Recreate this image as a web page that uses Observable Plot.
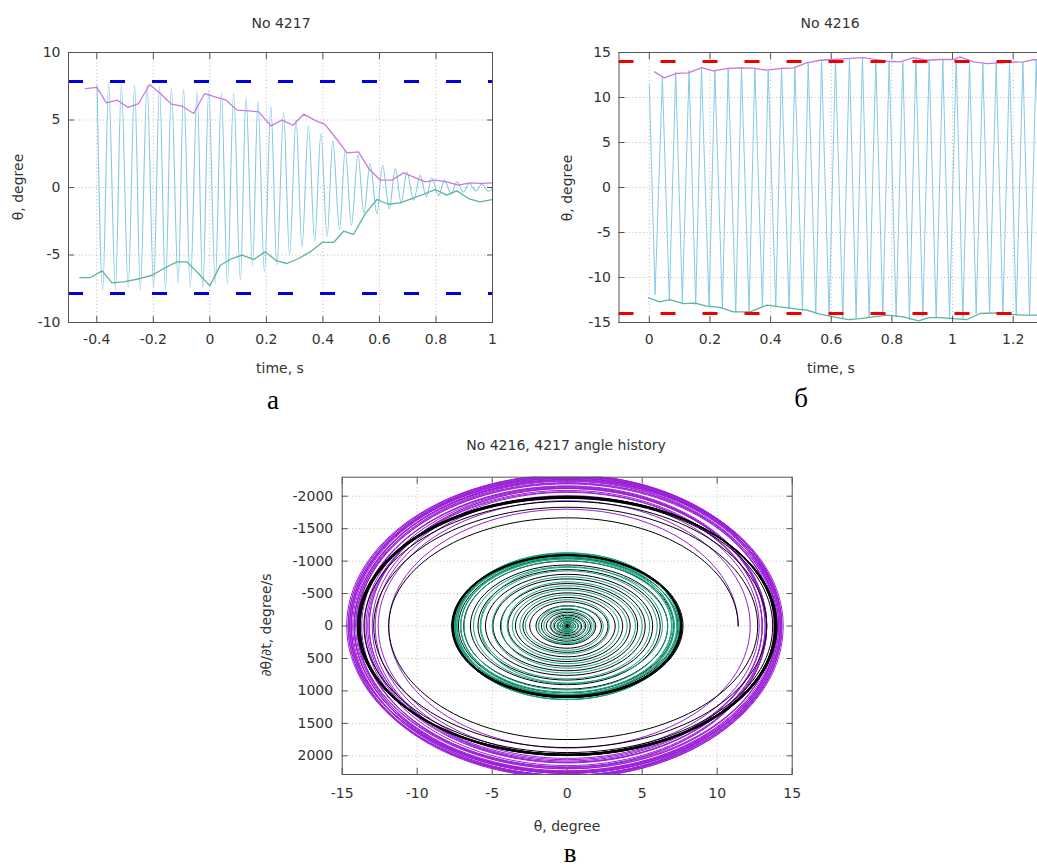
<!DOCTYPE html>
<html><head><meta charset="utf-8">
<script src="https://cdn.jsdelivr.net/npm/d3@7"></script>
<script src="https://cdn.jsdelivr.net/npm/@observablehq/plot@0.6"></script>
<style>
html,body{margin:0;padding:0;background:#fff;}
body{width:1037px;height:868px;overflow:hidden;position:relative;font-family:"DejaVu Sans",sans-serif;}
.p{position:absolute;}
.p svg{display:block;overflow:visible;max-width:none !important;}
.t{position:absolute;transform:translate(-50%,-50%);white-space:nowrap;font-size:14px;color:#333;line-height:1;}
.r{transform:translate(-50%,-50%) rotate(-90deg);}
.L{font-family:"Liberation Serif","Times New Roman",serif;font-size:27px;color:#000;}
</style></head><body>
<div id="pa" class="p" style="left:0;top:0;width:520px"></div>
<div id="pb" class="p" style="left:540px;top:0;width:540px"></div>
<div id="pc" class="p" style="left:240px;top:420px;width:580px"></div>

<div class="t" style="left:281px;top:23px">No 4217</div>
<div class="t r" style="left:18px;top:187px">θ, degree</div>
<div class="t" style="left:280px;top:368px">time, s</div>
<div class="t L" style="left:273px;top:400px">а</div>

<div class="t" style="left:830px;top:23px">No 4216</div>
<div class="t r" style="left:567px;top:188px">θ, degree</div>
<div class="t" style="left:831px;top:368px">time, s</div>
<div class="t L" style="left:801px;top:398px">б</div>

<div class="t" style="left:566px;top:445px">No 4216, 4217 angle history</div>
<div class="t r" style="left:266px;top:625px">∂θ/∂t, degree/s</div>
<div class="t" style="left:567px;top:826px">θ, degree</div>
<div class="t L" style="left:570px;top:853px">в</div>

<script>
// ---------- panel а : No 4217 ----------
const xTicksA = [-0.4, -0.2, 0, 0.2, 0.4, 0.6, 0.8, 1];
const yTicksA = [-10, -5, 0, 5, 10];
const limitA = [7.85, -7.85];
// oscillation extremes (time, angle)
const timeA = [-0.399,-0.379,-0.358,-0.334,-0.313,-0.289,-0.266,-0.246,-0.222,-0.199,-0.178,-0.157,-0.136,-0.112,-0.093,-0.069,-0.045,-0.025,-0.004,0.019,0.041,0.062,0.084,0.108,0.128,0.151,0.170,0.193,0.216,0.237,0.261,0.282,0.305,0.326,0.349,0.371,0.393,0.415,0.435,0.459,0.479,0.501,0.524,0.545,0.567,0.591,0.611,0.635,0.656,0.677,0.697,0.721,0.744,0.766,0.785,0.809,0.830,0.854,0.874,0.897,0.917,0.942,0.962,0.986,1.0];
const thetaA = [7.6,-7.6,7.6,-7.6,7.6,-7.36,7.55,-7.6,7.6,-7.36,7.45,-7.6,7.35,-7.1,7.3,-7.36,7.1,-7.5,7.15,-7.1,7.0,-7.1,6.95,-6.87,6.7,-5.8,6.35,-6.25,6.0,-5.76,5.5,-5.0,5.0,-4.4,4.55,-4.0,4.0,-3.66,3.45,-3.16,2.8,-2.79,2.4,-1.9,1.8,-1.93,1.65,-1.56,1.4,-1.15,1.15,-0.94,0.9,-0.69,0.72,-0.6,0.55,-0.48,0.42,-0.35,0.3,-0.25,0.25,-0.28,-0.05];
const upTimeA = [-0.44,-0.40,-0.366,-0.328,-0.289,-0.252,-0.213,-0.175,-0.136,-0.098,-0.057,-0.019,0.019,0.058,0.096,0.137,0.173,0.216,0.255,0.294,0.332,0.367,0.408,0.447,0.485,0.526,0.565,0.603,0.644,0.685,0.72,0.762,0.797,0.838,0.879,0.921,0.962,1.0];
const upA = [7.33,7.41,6.27,6.47,5.93,6.22,7.63,6.96,6.17,6.02,5.48,6.96,6.71,6.47,5.73,5.67,5.6,4.56,4.99,4.61,5.43,5.03,4.66,3.63,2.57,2.64,1.33,0.54,0.54,1.08,0.79,0.41,0.54,0.41,0.17,0.34,0.3,0.34];
const lowTimeA = [-0.46,-0.422,-0.381,-0.346,-0.305,-0.246,-0.204,-0.163,-0.116,-0.081,-0.04,0.0,0.037,0.078,0.114,0.155,0.196,0.237,0.273,0.314,0.355,0.397,0.438,0.473,0.508,0.55,0.591,0.632,0.673,0.715,0.756,0.797,0.838,0.874,0.915,0.956,1.0];
const lowA = [-6.67,-6.67,-6.18,-7.07,-6.99,-6.74,-6.5,-6.0,-5.51,-5.51,-6.37,-7.29,-5.76,-5.26,-5.01,-5.33,-4.77,-5.44,-5.63,-5.26,-4.77,-4.07,-4.07,-3.24,-3.48,-1.93,-0.89,-1.24,-1.14,-0.82,-0.5,-0.15,-0.57,-0.25,-0.82,-1.07,-0.89];

// ---------- panel б : No 4216 ----------
const xTicksB = [0, 0.2, 0.4, 0.6, 0.8, 1, 1.2];
const yTicksB = [-15, -10, -5, 0, 5, 10, 15];
const limitB = [14, -14];
const timeB = [0.0,0.019,0.043,0.066,0.087,0.109,0.131,0.153,0.172,0.197,0.216,0.241,0.260,0.285,0.304,0.329,0.348,0.373,0.392,0.417,0.436,0.461,0.480,0.505,0.524,0.549,0.568,0.593,0.614,0.638,0.660,0.682,0.703,0.725,0.747,0.770,0.791,0.814,0.836,0.858,0.879,0.902,0.923,0.946,0.968,0.990,1.012,1.034,1.056,1.078,1.100,1.122,1.144,1.166,1.188,1.210,1.232,1.254,1.276,1.298];
const thetaB = [11.4,-11.9,12.2,-12.6,12.8,-12.8,13.0,-13.0,13.3,-13.2,13.0,-13.4,13.2,-13.8,13.3,-13.8,13.3,-13.2,13.0,-13.3,13.2,-13.5,13.3,-13.7,13.8,-14.0,14.1,-14.3,14.2,-14.6,14.3,-14.5,14.4,-14.4,14.2,-14.2,14.0,-14.4,14.0,-14.7,14.3,-14.4,14.1,-14.5,14.2,-14.6,14.3,-14.5,14.0,-14.0,13.8,-14.0,13.8,-14.1,13.9,-14.2,14.0,-14.2,14.2,-14.1];
const upTimeB = [0.017,0.049,0.09,0.129,0.173,0.211,0.255,0.299,0.343,0.387,0.431,0.475,0.519,0.563,0.607,0.651,0.706,0.75,0.783,0.827,0.871,0.915,0.959,1.003,1.025,1.069,1.114,1.157,1.19,1.234,1.267,1.3];
const upB = [12.85,12.18,12.67,12.74,13.33,12.96,13.22,13.29,13.26,13.03,13.22,13.29,13.85,14.14,14.22,14.33,14.44,14.22,14.03,13.96,14.44,14.14,14.22,14.22,14.51,13.96,13.77,13.85,13.92,13.96,14.22,14.1];
const lowTimeB = [-0.003,0.035,0.068,0.112,0.151,0.189,0.233,0.277,0.332,0.387,0.431,0.475,0.519,0.563,0.607,0.657,0.695,0.739,0.783,0.838,0.888,0.921,0.959,1.003,1.048,1.091,1.147,1.19,1.234,1.279,1.3];
const lowB = [-12.26,-12.7,-12.45,-12.9,-12.85,-13.19,-13.33,-13.82,-13.82,-13.08,-13.26,-13.45,-13.63,-14.08,-14.37,-14.67,-14.56,-14.37,-14.19,-14.37,-14.82,-14.45,-14.45,-14.56,-14.67,-14.0,-13.93,-14.08,-14.19,-14.19,-14.2];

// ---------- panel в : phase portrait ----------
const xTicksC = [-15, -10, -5, 0, 5, 10, 15];
const yTicksC = [-2000, -1500, -1000, -500, 0, 500, 1000, 1500, 2000];
// turning angles (θ extremes) and peak rates between them
const exp4216Theta = thetaB;
const exp4216Rate = [1800,1880,1930,1980,2010,2040,2060,2100,2120,2080,2070,2110,2150,2170,2140,2180,2120,2060,2090,2100,2130,2150,2160,2200,2230,2260,2280,2300,2320,2340,2310,2330,2300,2270,2250,2240,2280,2300,2330,2310,2280,2270,2300,2320,2330,2310,2280,2240,2200,2180,2190,2200,2210,2230,2240,2250,2260,2270,2260];
const exp4217Theta = [7.5,-7.55,7.5,-7.52,7.48,-7.36,7.5,-7.55,7.52,-7.36,7.45,-7.5,7.35,-7.1,7.3,-7.36,7.1,-7.45,7.15,-7.1,7.0,-7.1,6.95,-6.87,6.7,-5.8,6.35,-6.25,6.0,-5.76,5.5,-5.0,5.0,-4.4,4.55,-4.0,4.0,-3.66,3.45,-3.16,2.8,-2.79,2.4,-1.9,1.8,-1.93,1.65,-1.56,1.4,-1.15,1.15,-0.94,0.9,-0.69,0.72,-0.6,0.55,-0.48,0.42,-0.35,0.3,-0.25,0.25,-0.28];
const exp4217Rate = [1128,1132,1120,1130,1110,1098,1124,1134,1102,1088,1112,1098,1060,1050,1070,1055,1065,1070,1040,1025,1030,1020,1005,985,905,880,915,890,850,815,760,725,680,650,620,580,555,515,480,430,405,375,310,270,270,260,232,215,185,167,152,133,115,102,96,83,75,65,56,47,40,36,38];
const sim4216Theta = [11.4,-11.9,12.7,-12.9,13.3,-13.55,13.7,-13.8,13.84,-13.96,13.92,-13.85,13.97,-13.9,13.86,-13.98,13.94,-13.84,13.9,-13.96,13.85,-13.92,13.98,-13.87,13.93,-13.95,13.88];
const sim4216Rate = [1667,1750,1830,1873,1920,1950,1966,1976,1992,1980,1972,1996,1984,1975,1998,1982,1978,1994,1986,1974,1990,1997,1979,1988,1993,1981];
const sim4217Theta = [7.62,-7.64,7.58,-7.7,7.66,-7.6,7.72,-7.63,7.56,-7.68,7.64,-7.66,7.6,-7.6,7.55,-7.48,7.38,-7.25,7.1,-6.9,6.7,-6.45,6.2,-5.95,5.7,-5.45,5.2,-4.95,4.7,-4.45,4.2,-3.95,3.7,-3.45,3.2,-2.95,2.72,-2.5,2.28,-2.08,1.9,-1.72,1.55,-1.39,1.24,-1.1,0.97,-0.85,0.74,-0.64,0.55,-0.47,0.4,-0.34,0.28,-0.23,0.19,-0.15,0.12,-0.09,0.07,-0.05,0.04];
const sim4217Rate = [1091,1080,1098,1102,1085,1100,1094,1078,1096,1104,1088,1092,1087,1083,1075,1062,1046,1026,1001,972,940,904,869,833,797,761,726,690,654,618,583,547,511,475,440,405,373,342,312,285,259,234,210,188,167,148,130,114,99,85,73,62,53,44,36,30,24,19,15,11,9,6];
const sim4217SteadyTurns = 15; // first turning points form the steady (thick) ring

const fmt = d => String(d);
const style = {fontFamily: "DejaVu Sans, sans-serif", fontSize: "14px", color: "#333", background: "transparent", overflow: "visible"};
const gridStyle = {stroke: "#bdbdbd", strokeOpacity: 1, strokeDasharray: "1,2.5", strokeWidth: 1};
const frameColor = "#555";

function axes(xt, yt, padX, padY) {
  return [
    Plot.axisX(xt, {anchor: "bottom", tickSize: -6, tickPadding: padX, tickFormat: fmt, label: null, stroke: frameColor, fill: "#333"}),
    Plot.axisX(xt, {anchor: "top", tickSize: -6, tickFormat: () => "", label: null, stroke: frameColor}),
    Plot.axisY(yt, {anchor: "left", tickSize: -6, tickPadding: padY, tickFormat: fmt, label: null, stroke: frameColor, fill: "#333"}),
    Plot.axisY(yt, {anchor: "right", tickSize: -6, tickFormat: () => "", label: null, stroke: frameColor})
  ];
}

const sigA = timeA.map((t, i) => ({t, v: thetaA[i]}));
const envUpA = upTimeA.map((t, i) => ({t, v: upA[i]}));
const envLowA = lowTimeA.map((t, i) => ({t, v: lowA[i]}));

const plotA = Plot.plot({
  width: 520, height: 380,
  marginLeft: 68, marginRight: 28, marginTop: 52, marginBottom: 58,
  style,
  x: {domain: [-0.5, 1]},
  y: {domain: [-10, 10]},
  marks: [
    Plot.gridX(xTicksA, gridStyle),
    Plot.gridY(yTicksA, gridStyle),
    Plot.line(sigA, {x: "t", y: "v", stroke: "#86c8e6", strokeWidth: 1.1, curve: "monotone-x", clip: true}),
    Plot.line(envUpA, {x: "t", y: "v", stroke: "#c67cdc", strokeWidth: 1.3, clip: true}),
    Plot.line(envLowA, {x: "t", y: "v", stroke: "#5db39f", strokeWidth: 1.3, clip: true}),
    Plot.ruleY(limitA, {stroke: "#0000e0", strokeWidth: 3, strokeDasharray: "15,27"}),
    Plot.frame({stroke: frameColor}),
    ...axes(xTicksA, yTicksA, 18, 14)
  ]
});
document.getElementById("pa").append(plotA);

const sigB = timeB.map((t, i) => ({t, v: thetaB[i]}));
const envUpB = upTimeB.map((t, i) => ({t, v: upB[i]}));
const envLowB = lowTimeB.map((t, i) => ({t, v: lowB[i]}));

const plotB = Plot.plot({
  width: 540, height: 380,
  marginLeft: 78.5, marginRight: 37, marginTop: 52, marginBottom: 58,
  style,
  x: {domain: [-0.1, 1.3]},
  y: {domain: [-15, 15]},
  marks: [
    Plot.gridX(xTicksB, gridStyle),
    Plot.gridY(yTicksB, gridStyle),
    Plot.line(sigB, {x: "t", y: "v", stroke: "#86c8e6", strokeWidth: 1, clip: true}),
    Plot.line(envUpB, {x: "t", y: "v", stroke: "#c67cdc", strokeWidth: 1.3, clip: true}),
    Plot.line(envLowB, {x: "t", y: "v", stroke: "#5db39f", strokeWidth: 1.3, clip: true}),
    Plot.ruleY(limitB, {stroke: "#ee0000", strokeWidth: 3, strokeDasharray: "15,27"}),
    Plot.frame({stroke: frameColor}),
    ...axes(xTicksB, yTicksB, 18, 14)
  ]
});
document.getElementById("pb").append(plotB);

// phase path: turning points (θ, 0) joined through peak-rate points (0, ∓rate)
function phase(thetas, rates) {
  const pts = [];
  thetas.forEach((th, i) => {
    pts.push({x: th, y: 0});
    if (i < rates.length) pts.push({x: 0, y: th > 0 ? -rates[i] : rates[i]});
  });
  return pts;
}
// curve: vertical tangent at turning points, horizontal tangent at peak-rate points (elliptic arcs)
function phaseCurve(context) {
  const k = 0.5523;
  let pts = [];
  return {
    areaStart() {}, areaEnd() {},
    lineStart() { pts = []; },
    point(x, y) { pts.push([+x, +y]); },
    lineEnd() {
      if (!pts.length) return;
      context.moveTo(pts[0][0], pts[0][1]);
      for (let i = 1; i < pts.length; i++) {
        const [x0, y0] = pts[i - 1], [x1, y1] = pts[i];
        const turning = (i - 1) % 2 === 0;
        if (turning) context.bezierCurveTo(x0, y0 + k * (y1 - y0), x1 - k * (x1 - x0), y1, x1, y1);
        else context.bezierCurveTo(x0 + k * (x1 - x0), y0, x1, y1 - k * (y1 - y0), x1, y1);
      }
    }
  };
}

const n = sim4217SteadyTurns;
const sim4217Steady = phase(sim4217Theta.slice(0, n), sim4217Rate.slice(0, n - 1));
const sim4217Decay = phase(sim4217Theta.slice(n - 1), sim4217Rate.slice(n - 1));
const lineOpts = (stroke) => ({x: "x", y: "y", stroke, strokeWidth: 1, curve: phaseCurve, clip: true});

const plotC = Plot.plot({
  width: 580, height: 420,
  marginLeft: 101.7, marginRight: 28.3, marginTop: 56.7, marginBottom: 66,
  style,
  x: {domain: [-15, 15]},
  y: {domain: [-2293, 2288], reverse: true},
  marks: [
    Plot.gridX(xTicksC, gridStyle),
    Plot.gridY(yTicksC, gridStyle),
    Plot.line(phase(exp4216Theta, exp4216Rate), lineOpts("#9a1fd6")),
    Plot.line(sim4217Decay, lineOpts("#000")),
    Plot.line(phase(exp4217Theta, exp4217Rate), lineOpts("#14a37f")),
    Plot.line(sim4217Steady, lineOpts("#000")),
    Plot.line(phase(sim4216Theta, sim4216Rate), lineOpts("#000")),
    Plot.frame({stroke: frameColor}),
    ...axes(xTicksC, yTicksC, 20, 15)
  ]
});
document.getElementById("pc").append(plotC);
</script>
</body></html>
